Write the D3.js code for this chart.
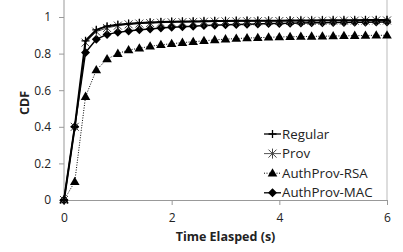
<!DOCTYPE html>
<meta charset="utf-8">
<style>
body { margin: 0; background: #fff; }
text { font-family: 'Open Sans', sans-serif; fill: #222; }
.axis text { font-size: 12px; }
.axis path, .axis line { stroke: #999; }
.title { font-size: 12.5px; font-weight: bold; }
.legend text { font-size: 13.3px; }
</style>
<svg id="chart" width="403" height="252"></svg>
<script src="https://d3js.org/d3.v7.min.js"></script>
<script>

// time points (s) and CDF values per series
var times = [0, 0.2, 0.4, 0.6, 0.8, 1.0, 1.2, 1.4, 1.6, 1.8, 2.0, 2.2, 2.4, 2.6, 2.8, 3.0,
             3.2, 3.4, 3.6, 3.8, 4.0, 4.2, 4.4, 4.6, 4.8, 5.0, 5.2, 5.4, 5.6, 5.8, 6.0];
var regular = [0, 0.40, 0.87, 0.93, 0.95, 0.958, 0.963, 0.967, 0.97, 0.972, 0.974, 0.975, 0.976, 0.977, 0.978, 0.978,
               0.979, 0.979, 0.98, 0.98, 0.98, 0.981, 0.981, 0.981, 0.982, 0.982, 0.982, 0.982, 0.983, 0.983, 0.983];
var prov = [0, 0.40, 0.86, 0.92, 0.94, 0.953, 0.96, 0.964, 0.967, 0.969, 0.971, 0.972, 0.973, 0.974, 0.975, 0.976,
            0.976, 0.977, 0.977, 0.978, 0.978, 0.978, 0.979, 0.979, 0.979, 0.98, 0.98, 0.98, 0.98, 0.981, 0.981];
var authRsa = [0, 0.10, 0.565, 0.71, 0.77, 0.80, 0.82, 0.829, 0.84, 0.848, 0.854, 0.86, 0.865, 0.87, 0.875, 0.879,
               0.882, 0.885, 0.887, 0.889, 0.891, 0.892, 0.893, 0.894, 0.895, 0.896, 0.897, 0.898, 0.899, 0.9, 0.9];
var authMac = [0, 0.40, 0.806, 0.878, 0.905, 0.916, 0.923, 0.93, 0.935, 0.94, 0.944, 0.947, 0.95, 0.953, 0.955, 0.957,
               0.959, 0.961, 0.962, 0.964, 0.965, 0.966, 0.967, 0.968, 0.969, 0.97, 0.97, 0.971, 0.971, 0.972, 0.972];
var seriesNames = ["Regular", "Prov", "AuthProv-RSA", "AuthProv-MAC"];
var xTicks = [0, 2, 4, 6];
var yTicks = [0, 0.2, 0.4, 0.6, 0.8, 1];

var svg = d3.select("#chart");
var x = d3.scaleLinear().domain([0, 6]).range([64, 387]);
var y = d3.scaleLinear().domain([0, 1]).range([200, 17]);

// right border of plot area
svg.append("line")
    .attr("x1", x(6)).attr("x2", x(6))
    .attr("y1", 0).attr("y2", y(0))
    .attr("stroke", "#bbb");

svg.append("g")
    .attr("class", "axis")
    .attr("transform", "translate(0," + y(0) + ")")
    .call(d3.axisBottom(x).tickValues(xTicks).tickSize(5).tickSizeOuter(0).tickFormat(d3.format("d")))
    .call(function(g) { g.selectAll("text").attr("y", 13).attr("dy", "0.71em"); });

var yAxis = svg.append("g")
    .attr("class", "axis")
    .attr("transform", "translate(" + x(0) + ",0)")
    .call(d3.axisLeft(y).tickValues(yTicks).tickSize(5).tickSizeOuter(0).tickFormat(d3.format("")))
    .call(function(g) { g.selectAll("text").attr("x", -13); });
yAxis.select(".domain").remove();
yAxis.append("line").attr("x1", 0).attr("x2", 0).attr("y1", 0).attr("y2", y(0)).attr("stroke", "#999");

svg.append("text").attr("class", "title")
    .attr("x", (x(0) + x(6)) / 2).attr("y", 241)
    .attr("text-anchor", "middle")
    .text("Time Elasped (s)");

svg.append("text").attr("class", "title")
    .attr("transform", "translate(29,103) rotate(-90)")
    .attr("text-anchor", "middle")
    .text("CDF");

// marker drawing
function marker(g, kind, cx, cy) {
    if (kind == "plus") {
        g.append("path").attr("d", "M" + (cx - 4) + "," + cy + "h8M" + cx + "," + (cy - 4) + "v8")
            .attr("stroke", "#000").attr("stroke-width", 1.3).attr("fill", "none");
    } else if (kind == "star") {
        g.append("path").attr("d", "M" + (cx - 4) + "," + (cy - 4) + "l8,8M" + (cx - 4) + "," + (cy + 4) + "l8,-8M" + cx + "," + (cy - 5) + "v10")
            .attr("stroke", "#444").attr("stroke-width", 1).attr("fill", "none");
    } else if (kind == "triangle") {
        g.append("path").attr("d", d3.symbol(d3.symbolTriangle, 40)())
            .attr("transform", "translate(" + cx + "," + (cy + 0.5) + ")").attr("fill", "#000");
    } else {
        g.append("path").attr("d", "M" + cx + "," + (cy - 4.5) + "l4.5,4.5l-4.5,4.5l-4.5,-4.5z")
            .attr("fill", "#000");
    }
}

var series = [
    {name: seriesNames[0], values: regular, kind: "plus", stroke: "#000", width: 2, dash: null},
    {name: seriesNames[1], values: prov, kind: "star", stroke: "#555", width: 1, dash: null},
    {name: seriesNames[2], values: authRsa, kind: "triangle", stroke: "#000", width: 1, dash: "1,1.5"},
    {name: seriesNames[3], values: authMac, kind: "diamond", stroke: "#000", width: 1.5, dash: null}
];

var line = d3.line()
    .x(function(d, i) { return x(times[i]); })
    .y(function(d) { return y(d); });

series.slice().reverse().forEach(function(s) {
    var g = svg.append("g");
    g.append("path")
        .attr("d", line(s.values))
        .attr("fill", "none")
        .attr("stroke", s.stroke)
        .attr("stroke-width", s.width)
        .attr("stroke-dasharray", s.dash);
    s.values.forEach(function(v, i) { marker(g, s.kind, x(times[i]), y(v)); });
});

// legend
var legend = svg.append("g").attr("class", "legend");
series.forEach(function(s, i) {
    var ly = 134 + i * 19.6;
    legend.append("line")
        .attr("x1", 264).attr("x2", 281).attr("y1", ly).attr("y2", ly)
        .attr("stroke", s.stroke).attr("stroke-width", Math.min(s.width, 1.3))
        .attr("stroke-dasharray", s.dash);
    marker(legend, s.kind, 272.5, ly);
    legend.append("text")
        .attr("x", 282).attr("y", ly).attr("dy", "0.35em")
        .text(s.name);
});

</script>
